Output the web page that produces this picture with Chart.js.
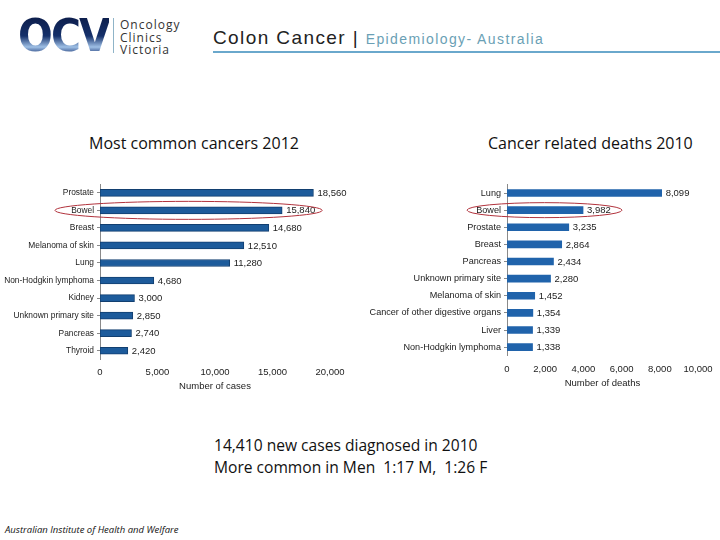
<!DOCTYPE html>
<html>
<head>
<meta charset="utf-8">
<script src="https://cdn.jsdelivr.net/npm/chart.js@4/dist/chart.umd.min.js"></script>
<style>
  html, body { margin: 0; padding: 0; background: #fff; }
  body { width: 720px; height: 540px; position: relative; overflow: hidden; font-family: "Liberation Sans", Arial, sans-serif; }
  .abs { position: absolute; }
  #logo { left: 18px; top: 13px; font: bold 44px "DejaVu Sans", sans-serif; letter-spacing: -2px; transform: scaleX(0.93); transform-origin: left top;
    background: linear-gradient(to bottom, #0b1a45 0%, #15306a 50%, #9fc0e6 74%, #183472 90%, #0b1a45 100%);
    -webkit-background-clip: text; background-clip: text; color: transparent; line-height: 46px; }
  #logoBar { left: 113px; top: 18px; width: 1px; height: 35px; background: #8fb4c8; }
  #logoText { left: 120px; top: 19px; font: 12px "Open Sans", sans-serif; letter-spacing: 1px; line-height: 12.5px; color: #333; }
  #title { left: 213px; top: 27px; white-space: nowrap; color: #222; }
  #title .main { font: 19px "Liberation Sans", Arial, sans-serif; letter-spacing: 1.4px; }
  #title .sub { font: 14px "Liberation Sans", Arial, sans-serif; letter-spacing: 1.4px; color: #6a9fb5; }
  #rule { left: 213px; top: 51px; width: 507px; height: 2px; background: #6aa8cc; }
  .head { font: 16px "Open Sans", sans-serif; color: #111; top: 132px; white-space: nowrap; }
  #note { left: 214px; top: 434px; font: 15.6px "Open Sans", sans-serif; color: #111; line-height: 22px; white-space: nowrap; }
  #src { left: 5px; top: 523px; font: italic 9.5px "Open Sans", sans-serif; color: #111; white-space: nowrap; }
</style>
</head>
<body>
<div id="logo" class="abs">OCV</div>
<div id="logoBar" class="abs"></div>
<div id="logoText" class="abs">Oncology<br>Clinics<br>Victoria</div>
<div id="title" class="abs"><span class="main">Colon Cancer | </span><span class="sub">Epidemiology- Australia</span></div>
<div id="rule" class="abs"></div>

<div class="abs head" style="left:89px">Most common cancers 2012</div>
<div class="abs head" style="left:488px">Cancer related deaths 2010</div>

<canvas id="cases" class="abs" style="left:0px; top:176px; width:352px; height:220px"></canvas>
<canvas id="deaths" class="abs" style="left:360px; top:176px; width:360px; height:218px"></canvas>

<div id="note" class="abs">14,410 new cases diagnosed in 2010<br>More common in Men&nbsp; 1:17 M,&nbsp; 1:26 F</div>
<div id="src" class="abs">Australian Institute of Health and Welfare</div>

<script>
const caseLabels = ["Prostate", "Bowel", "Breast", "Melanoma of skin", "Lung", "Non-Hodgkin lymphoma", "Kidney", "Unknown primary site", "Pancreas", "Thyroid"];
const caseValues = [18560, 15840, 14680, 12510, 11280, 4680, 3000, 2850, 2740, 2420];
const caseTicks = [0, 5000, 10000, 15000, 20000];

const deathLabels = ["Lung", "Bowel", "Prostate", "Breast", "Pancreas", "Unknown primary site", "Melanoma of skin", "Cancer of other digestive organs", "Liver", "Non-Hodgkin lymphoma"];
const deathValues = [8099, 3982, 3235, 2864, 2434, 2280, 1452, 1354, 1339, 1338];
const deathTicks = [0, 2000, 4000, 6000, 8000, 10000];

const LABEL_FONT = { family: "'Liberation Sans', Arial, sans-serif", size: 9.5 };
const fmt = v => v.toLocaleString("en-US");

// numbers at the end of each bar
const valueLabels = {
  id: "valueLabels",
  afterDatasetsDraw(chart) {
    const ctx = chart.ctx;
    const ds = chart.data.datasets[0];
    ctx.save();
    ctx.font = `${LABEL_FONT.size}px ${LABEL_FONT.family}`;
    ctx.fillStyle = "#222";
    ctx.textBaseline = "middle";
    chart.getDatasetMeta(0).data.forEach((bar, i) => {
      ctx.fillText(fmt(ds.data[i]), bar.x + 4, bar.y + 0.5);
    });
    ctx.restore();
  }
};

// red ring round the highlighted row
const ring = {
  id: "ring",
  afterDraw(chart, args, opts) {
    if (opts.index == null) return;
    const x = chart.scales.x, y = chart.scales.y;
    const x1 = chart.chartArea.left - opts.before;
    const x2 = x.getPixelForValue(chart.data.datasets[0].data[opts.index]) + opts.after;
    const cy = y.getPixelForValue(opts.index);
    const ctx = chart.ctx;
    ctx.save();
    ctx.strokeStyle = "#b1323c";
    ctx.lineWidth = 1;
    ctx.beginPath();
    ctx.ellipse((x1 + x2) / 2, cy, (x2 - x1) / 2, opts.ry, 0, 0, Math.PI * 2);
    ctx.stroke();
    ctx.restore();
  }
};

function makeChart(id, labels, values, ticks, axisTitle, cfg) {
  return new Chart(document.getElementById(id), {
    type: "bar",
    data: {
      labels: labels,
      datasets: [{
        data: values,
        backgroundColor: cfg.fill,
        borderColor: cfg.border,
        borderWidth: cfg.borderWidth,
        borderSkipped: false,
        barThickness: 7
      }]
    },
    options: {
      indexAxis: "y",
      responsive: false,
      animation: false,
      layout: { padding: { top: cfg.padTop, right: cfg.padRight, left: 0, bottom: 0 } },
      plugins: {
        legend: { display: false },
        tooltip: { enabled: false },
        ring: { index: 1, before: cfg.ringBefore, after: cfg.ringAfter, ry: cfg.ringRy }
      },
      scales: {
        x: {
          min: ticks[0],
          max: ticks[ticks.length - 1],
          afterBuildTicks: s => { s.ticks = ticks.map(v => ({ value: v })); },
          afterFit: s => { s.height = cfg.xHeight; },
          grid: { display: false, drawTicks: false },
          border: { display: false },
          ticks: { padding: cfg.xTickPad, color: "#222", font: LABEL_FONT, maxRotation: 0, callback: v => fmt(v) },
          title: { display: true, text: axisTitle, color: "#222", font: LABEL_FONT, padding: { top: 0, bottom: cfg.titlePad } }
        },
        y: {
          afterFit: s => { s.width = cfg.yWidth; },
          grid: { display: true, drawOnChartArea: false, drawTicks: true, tickLength: 3, offset: false, color: "#8a8a8a" },
          border: { display: true, color: "#8a8a8a" },
          ticks: { padding: 3, color: "#222", font: cfg.yFont, autoSkip: false }
        }
      }
    },
    plugins: [valueLabels, ring]
  });
}

const c1 = document.getElementById("cases");
c1.width = 352; c1.height = 220;
const c2 = document.getElementById("deaths");
c2.width = 360; c2.height = 218;

makeChart("cases", caseLabels, caseValues, caseTicks, "Number of cases", {
  fill: "#1d5b9b", border: "#123f70", borderWidth: 1,
  padTop: 6.5, padRight: 22, xHeight: 36.5, xTickPad: 7, titlePad: 4.3, yWidth: 100,
  ringBefore: 45, ringAfter: 40, ringRy: 9,
  yFont: { family: "'Liberation Sans', Arial, sans-serif", size: 8.4 }
});
makeChart("deaths", deathLabels, deathValues, deathTicks, "Number of deaths", {
  fill: "#2063ab", border: "#2063ab", borderWidth: 0,
  padTop: 5.3, padRight: 20, xHeight: 38.3, xTickPad: 7.5, titlePad: 5.3, yWidth: 147,
  ringBefore: 40, ringAfter: 39, ringRy: 7.5,
  yFont: { family: "'Liberation Sans', Arial, sans-serif", size: 9.1 }
});
</script>
</body>
</html>
